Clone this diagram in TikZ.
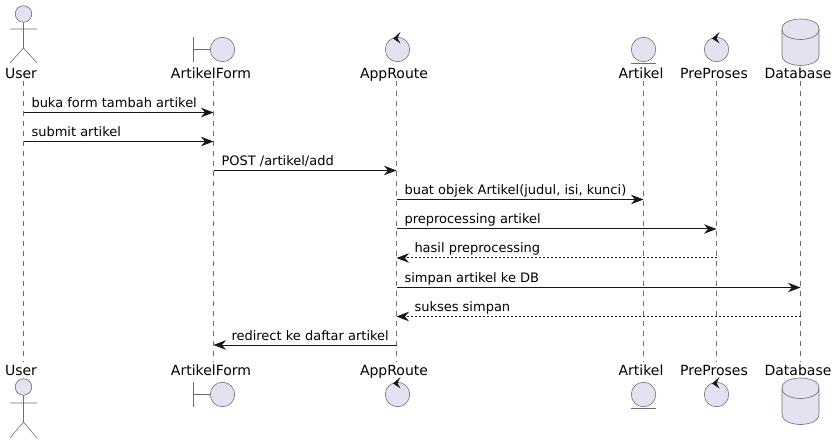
\documentclass[tikz,border=0pt]{standalone}
\usepackage{fontspec}
\setmainfont{DejaVu Sans}
\usetikzlibrary{arrows.meta}
\definecolor{colorfill}     {RGB}{226,226,240}
\definecolor{colorline}     {RGB}{24 ,24 ,24 }
\definecolor{colorthin}     {RGB}{110,110,110}

\begin{document}
\begin{tikzpicture}[
    x=1pt, y=-1pt,
    partname/.style={text=black,font={\fontsize{14}{16}\selectfont},inner sep=0pt,anchor=base},
    msgtext/.style={text=black,font={\fontsize{13}{15}\selectfont},inner sep=0pt,anchor=base west,yshift=5pt},
    msg/.style={draw=colorline,line width=1pt,-{Stealth[length=12.5pt,width=9.5pt,inset=4pt]}},
    msgback/.style={msg,dash pattern=on 2pt off 2pt},
    lifeline/.style={draw=colorthin,line width=.5pt,dash pattern=on 5pt off 5pt},
    icon/.style={draw=colorthin,line width=.6pt},
    ball/.style={icon,fill=colorfill,circle,minimum size=24.5pt,inner sep=0pt},
    spin/.style={fill=colorline,draw=none},
]
    \useasboundingbox (0,0) rectangle (837,443);

    % lifelines
    \coordinate (user) at (23.5,81);      \coordinate (userend) at (23.5,362);
    \coordinate (form) at (213.5,81);     \coordinate (formend) at (213.5,362);
    \coordinate (route) at (396.5,81);    \coordinate (routeend) at (396.5,362);
    \coordinate (artikel) at (643.5,81);  \coordinate (artikelend) at (643.5,362);
    \coordinate (prep) at (716.5,81);     \coordinate (prepend) at (716.5,362);
    \coordinate (db) at (800.5,81);       \coordinate (dbend) at (800.5,362);
    \draw[lifeline] (user) -- (userend);
    \draw[lifeline] (form) -- (formend);
    \draw[lifeline] (route) -- (routeend);
    \draw[lifeline] (artikel) -- (artikelend);
    \draw[lifeline] (prep) -- (prepend);
    \draw[lifeline] (db) -- (dbend);

    % names, top and bottom
    \node[partname] (usertop) at (21,78.5) {User};
    \node[partname] (formtop) at (211,78.5) {ArtikelForm};
    \node[partname] (routetop) at (394,78.5) {AppRoute};
    \node[partname] (artikeltop) at (641,78.5) {Artikel};
    \node[partname] (preptop) at (714,78.5) {PreProses};
    \node[partname] (dbtop) at (798,78.5) {Database};
    \node[partname] (userbot) at (21,375) {User};
    \node[partname] (formbot) at (211,375) {ArtikelForm};
    \node[partname] (routebot) at (394,375) {AppRoute};
    \node[partname] (artikelbot) at (641,375) {Artikel};
    \node[partname] (prepbot) at (714,375) {PreProses};
    \node[partname] (dbbot) at (798,375) {Database};

    % messages
    \coordinate (row1) at (0,112.5);
    \coordinate (row2) at (0,141.5);
    \coordinate (row3) at (0,170.5);
    \coordinate (row4) at (0,199.5);
    \coordinate (row5) at (0,229);
    \coordinate (row6) at (0,258);
    \coordinate (row7) at (0,287.5);
    \coordinate (row8) at (0,316.5);
    \coordinate (row9) at (0,345);
    \draw[msg] (user |- row1) -- node[msgtext,pos=0,xshift=7.5pt] (msg1) {buka form tambah artikel} (form |- row1);
    \draw[msg] (user |- row2) -- node[msgtext,pos=0,xshift=7.5pt] (msg2) {submit artikel} (form |- row2);
    \draw[msg] (form |- row3) -- node[msgtext,pos=0,xshift=7.5pt] (msg3) {POST /artikel/add} (route |- row3);
    \draw[msg] (route |- row4) -- node[msgtext,pos=0,xshift=7.5pt] (msg4) {buat objek Artikel(judul, isi, kunci)} (artikel |- row4);
    \draw[msg] (route |- row5) -- node[msgtext,pos=0,xshift=7.5pt] (msg5) {preprocessing artikel} (prep |- row5);
    \draw[msgback] (prep |- row6) -- node[msgtext,pos=1,xshift=17.5pt] (msg6) {hasil preprocessing} (route |- row6);
    \draw[msg] (route |- row7) -- node[msgtext,pos=0,xshift=7.5pt] (msg7) {simpan artikel ke DB} (db |- row7);
    \draw[msgback] (db |- row8) -- node[msgtext,pos=1,xshift=17.5pt] (msg8) {sukses simpan} (route |- row8);
    \draw[msg] (route |- row9) -- node[msgtext,pos=1,xshift=17.5pt] (msg9) {redirect ke daftar artikel} (form |- row9);

    % user
    \node[ball,minimum size=16.5pt] (userhead) at (23.5,14) {};
    \draw[icon] (userhead.south) -- (23.5,48) (10,29) -- (37,29) (10,63) -- (23.5,48) -- (37,63);
    \node[ball,minimum size=16.5pt] (userheadb) at (23.5,387) {};
    \draw[icon] (userheadb.south) -- (23.5,422) (10,403) -- (37,403) (10,438) -- (23.5,422) -- (37,438);

    % boundary
    \node[ball] (formball) at (222.5,49.5) {};
    \draw[icon] (formball.west) -- (193.5,49.5) (193.5,37) -- (193.5,62);
    \node[ball] (formballb) at (222.5,394.5) {};
    \draw[icon] (formballb.west) -- (193.5,394.5) (193.5,382) -- (193.5,407);

    % control
    \node[ball] (routeball) at (397.5,49.5) {};
    \fill[spin] (400.5,32) -- (393,38.5) -- (400.5,43.5) -- (397.5,38) -- cycle;
    \node[ball] (routeballb) at (397.5,394.5) {};
    \fill[spin] (400.5,377) -- (393,383.5) -- (400.5,388.5) -- (397.5,383) -- cycle;
    \node[ball] (prepball) at (716.5,49.5) {};
    \fill[spin] (719.5,32) -- (712,38.5) -- (719.5,43.5) -- (716.5,38) -- cycle;
    \node[ball] (prepballb) at (716.5,394.5) {};
    \fill[spin] (719.5,377) -- (712,383.5) -- (719.5,388.5) -- (716.5,383) -- cycle;

    % entity
    \node[ball] (artikelball) at (643.5,49.5) {};
    \draw[icon] (631,63) -- (656,63);
    \node[ball] (artikelballb) at (643.5,394.5) {};
    \draw[icon] (631,408) -- (656,408);

    % database
    \draw[icon,fill=colorfill] (782,29) .. controls (782,19) and (800.5,19) .. (800.5,19)
        .. controls (800.5,19) and (819,19) .. (819,29) -- (819,55)
        .. controls (819,65.5) and (800.5,65.5) .. (800.5,65.5)
        .. controls (800.5,65.5) and (782,65.5) .. (782,55) -- cycle;
    \draw[icon] (782,29) .. controls (782,39.5) and (800.5,39.5) .. (800.5,39.5)
        .. controls (800.5,39.5) and (819,39.5) .. (819,29);
    \draw[icon,fill=colorfill] (782,388) .. controls (782,378) and (800.5,378) .. (800.5,378)
        .. controls (800.5,378) and (819,378) .. (819,388) -- (819,414)
        .. controls (819,424.5) and (800.5,424.5) .. (800.5,424.5)
        .. controls (800.5,424.5) and (782,424.5) .. (782,414) -- cycle;
    \draw[icon] (782,388) .. controls (782,398.5) and (800.5,398.5) .. (800.5,398.5)
        .. controls (800.5,398.5) and (819,398.5) .. (819,388);

\end{tikzpicture}
\end{document}
